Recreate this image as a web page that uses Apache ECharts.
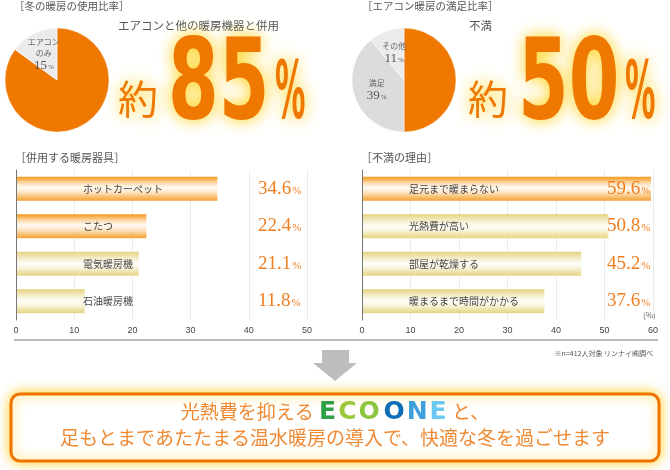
<!DOCTYPE html>
<html>
<head>
<meta charset="utf-8">
<script src="https://cdn.jsdelivr.net/npm/echarts@6/dist/echarts.min.js"></script>
<style>
  html, body { margin: 0; padding: 0; background: #fff; }
  #chart { width: 670px; height: 470px; }
</style>
</head>
<body>
<div id="chart"></div>
<script>
// 冬の暖房の使用比率
const useNames = ['エアコンと他の暖房機器と併用', 'エアコン\nのみ']
const useValues = [85, 15]
// エアコン暖房の満足比率
const satNames = ['不満', '満足', 'その他']
const satValues = [50, 39, 11]
// 併用する暖房器具
const heaterNames = ['ホットカーペット', 'こたつ', '電気暖房機', '石油暖房機']
const heaterValues = [34.6, 22.4, 21.1, 11.8]
const heaterMax = 50
// 不満の理由
const reasonNames = ['足元まで暖まらない', '光熱費が高い', '部屋が乾燥する', '暖まるまで時間がかかる']
const reasonValues = [59.6, 50.8, 45.2, 37.6]
const reasonMax = 60

const ORANGE = '#ee7800'
const JP = "'Noto Sans CJK JP', sans-serif"

function stops(list) {
  return { type: 'linear', x: 0, y: 0, x2: 0, y2: 1, colorStops: list.map(s => ({ offset: s[0], color: s[1] })) }
}
const orangeFill = stops([[0, '#f39a1e'], [0.1, '#f7b04f'], [0.25, '#fbd8a8'], [0.45, '#fffaf3'], [0.65, '#fde6c6'], [0.85, '#f8bd6c'], [1, '#f4a236']])
const yellowFill = stops([[0, '#e3d07a'], [0.1, '#ebdd9c'], [0.3, '#f6efd2'], [0.5, '#fffef8'], [0.7, '#f8f2d8'], [0.88, '#ecdf9e'], [1, '#e5d384']])

function barData(values, orangeCount) {
  return values.map((v, i) => ({ value: v, itemStyle: { color: i < orangeCount ? orangeFill : yellowFill } }))
}

const valueRich = {
  v: { fontSize: 19, fontFamily: 'Liberation Serif', color: '#f07d1e', verticalAlign: 'bottom' },
  p: { fontSize: 11, fontFamily: 'Liberation Serif', color: '#f07d1e', verticalAlign: 'bottom', padding: [0, 0, 2, 1] }
}
const pieRich = {
  n: { fontSize: 8, color: '#666', fontFamily: JP, lineHeight: 11 },
  v: { fontSize: 13, color: '#555', fontFamily: 'Liberation Serif', verticalAlign: 'bottom' },
  p: { fontSize: 7, color: '#555', fontFamily: 'Liberation Serif', verticalAlign: 'bottom', padding: [0, 0, 1, 1] }
}

function grid(left) {
  return { left: left, top: 170, width: 291, height: 150 }
}
function xAxis(idx, max) {
  return {
    gridIndex: idx, type: 'value', min: 0, max: max, interval: 10,
    axisLine: { show: false }, axisTick: { show: false },
    axisLabel: { color: '#444', fontSize: 9, fontFamily: 'Liberation Sans', margin: 6 },
    splitLine: { lineStyle: { color: '#ebebeb' } }
  }
}
function yAxis(idx, names, margin) {
  return {
    gridIndex: idx, type: 'category', data: names, inverse: true, z: 10,
    axisLine: { lineStyle: { color: '#777', width: 1 } }, axisTick: { show: false },
    axisLabel: { inside: true, margin: margin, color: '#444', fontSize: 10, fontFamily: JP }
  }
}
function barSeries(idx, values, orangeCount, offset) {
  return {
    type: 'bar', xAxisIndex: idx, yAxisIndex: idx, barWidth: 24, z: 1,
    data: barData(values, orangeCount),
    label: {
      show: true, position: [offset, '50%'], verticalAlign: 'middle', align: 'left',
      formatter: p => '{v|' + p.value.toFixed(1) + '}{p|%}', rich: valueRich
    }
  }
}
function pieSeries(center, names, values) {
  return {
    type: 'pie', center: center, radius: 52, startAngle: 90, clockwise: true,
    avoidLabelOverlap: false, silent: true,
    itemStyle: { borderColor: '#fff', borderWidth: 0.5 },
    labelLine: { show: false },
    data: names.map((n, i) => ({
      name: n, value: values[i],
      itemStyle: { color: i === 0 ? ORANGE : (i === 1 && names.length > 2 ? '#dcdcdc' : '#ebebeb') },
      label: { show: i > 0 }
    })),
    label: {
      position: 'inside',
      formatter: p => '{n|' + p.name.split('\n').join('}\n{n|') + '}\n{v|' + p.value + '}{p|%}',
      rich: pieRich
    }
  }
}

const glow = { textShadowColor: 'rgba(255,205,0,0.95)', textShadowBlur: 16 }
function bigNumber(x, value) {
  return [
    { type: 'text', x: x, y: 99, style: Object.assign({ text: '約', fill: ORANGE, font: '40px ' + JP, textVerticalAlign: 'middle' }, glow) },
    { type: 'text', x: x + 50, y: 89, scaleX: 0.65, style: Object.assign({ text: String(value), fill: ORANGE, font: 'bold 112px "DejaVu Sans"', textVerticalAlign: 'middle' }, glow) },
    { type: 'text', x: x + 157, y: 97, scaleX: 0.38, style: Object.assign({ text: '%', fill: ORANGE, font: 'bold 80px "DejaVu Sans"', textVerticalAlign: 'middle' }, glow) }
  ]
}
function label(x, y, text, size, color, align) {
  return { type: 'text', x: x, y: y, style: { text: text, fill: color || '#555', font: size + 'px ' + JP, textAlign: align || 'left', textVerticalAlign: 'middle' } }
}

const logoLetter = c => ({ fontSize: 25, fontFamily: 'DejaVu Sans', fontWeight: 'bold', fill: c, padding: [0, 1] })

const option = {
  animation: false,
  textStyle: { fontFamily: JP },
  grid: [grid(16), grid(362)],
  xAxis: [xAxis(0, heaterMax), xAxis(1, reasonMax)],
  yAxis: [yAxis(0, heaterNames, 67), yAxis(1, reasonNames, 47)],
  series: [
    barSeries(0, heaterValues, 2, 242),
    barSeries(1, reasonValues, 1, 245),
    pieSeries([57, 80], useNames, useValues),
    pieSeries([404, 80], satNames, satValues)
  ],
  graphic: [
    label(14, 6, '［冬の暖房の使用比率］', 10.5),
    label(362, 6, '［エアコン暖房の満足比率］', 10.5),
    label(118, 26, useNames[0], 11.5),
    label(469, 26, satNames[0], 11.5),
    label(15, 158, '［併用する暖房器具］', 11),
    label(361, 158, '［不満の理由］', 11),
    label(643, 315, '(%)', 8, '#666'),
    ...bigNumber(118, useValues[0]),
    ...bigNumber(468, satValues[0]),
    { type: 'line', shape: { x1: 14, y1: 340, x2: 658, y2: 340 }, style: { stroke: '#777', lineWidth: 1.2 } },
    label(653, 353, '※n=412人対象 リンナイ㈱調べ', 7, '#555', 'right'),
    { type: 'polygon', shape: { points: [[322, 350], [349, 350], [349, 363], [357, 363], [335, 381], [313, 363], [322, 363]] }, style: { fill: '#bdbdbd' } },
    { type: 'rect', shape: { x: 11, y: 394, width: 648, height: 67, r: 9 }, style: { fill: '#fff', stroke: '#ee7400', lineWidth: 3, shadowBlur: 12, shadowColor: 'rgba(255,200,0,0.85)' } },
    {
      type: 'text', x: 335, y: 412,
      style: {
        text: '{j|光熱費を抑える }{g1|E}{g2|C}{g3|O}{s| }{b1|O}{b2|N}{b3|E}{j| と、}',
        textAlign: 'center', textVerticalAlign: 'middle',
        rich: {
          j: { fontSize: 19, fontFamily: JP, fill: '#ef8a33' },
          s: { fontSize: 6 },
          g1: logoLetter('#2fa046'),
          g2: logoLetter('#9cc93a'),
          g3: logoLetter('#8cc63f'),
          b1: logoLetter('#0d6db7'),
          b2: logoLetter('#3f9fdc'),
          b3: logoLetter('#6cc8f0')
        }
      }
    },
    label(335, 438, '足もとまであたたまる温水暖房の導入で、快適な冬を過ごせます', 19, '#ef8a33', 'center')
  ]
}

const chart = echarts.init(document.getElementById('chart'))
chart.setOption(option)
window.addEventListener('resize', () => chart.resize())
</script>
</body>
</html>
